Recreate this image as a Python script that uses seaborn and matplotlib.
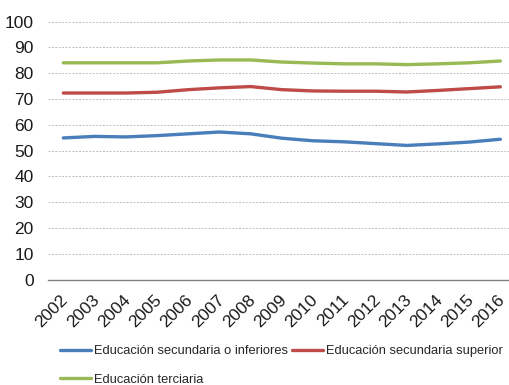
import matplotlib
matplotlib.use("Agg")
import matplotlib.pyplot as plt
import matplotlib.transforms as mtrans
import seaborn as sns
import pandas as pd
import numpy as np

years = [str(y) for y in range(2002, 2017)]
low = [54.9, 55.5, 55.3, 55.8, 56.5, 57.2, 56.5, 54.8, 53.8, 53.4, 52.7, 52.0, 52.6, 53.3, 54.4]
upper = [72.3, 72.3, 72.3, 72.6, 73.6, 74.3, 74.8, 73.6, 73.1, 73.0, 73.0, 72.7, 73.3, 74.0, 74.7]
tert = [84.0, 84.0, 84.0, 84.0, 84.7, 85.1, 85.1, 84.3, 83.9, 83.6, 83.6, 83.3, 83.6, 84.0, 84.7]
series_names = ["Educación secundaria o inferiores", "Educación secundaria superior", "Educación terciaria"]
colors = ["#4A7EBB", "#BE4B48", "#98B954"]
yticks = list(range(0, 101, 10))

sns.set_theme(style="white")
plt.rcParams['font.family'] = ['Liberation Sans', 'DejaVu Sans']

df = pd.DataFrame({
    "idx": list(range(len(years))) * 3,
    "value": low + upper + tert,
    "serie": sum([[n] * len(years) for n in series_names], []),
})

fig = plt.figure(figsize=(5.10, 3.85), dpi=100)
ax = fig.add_axes([47.7 / 510, 105.3 / 385, (516 - 47.7) / 510, (279.7 - 21.5) / 385])
sns.lineplot(data=df, x="idx", y="value", hue="serie", palette=colors, linewidth=2.4,
             ax=ax, legend=False)

ax.set_xlim(-0.5, len(years) - 0.5)
ax.set_ylim(0, 100)
ax.set_yticks(yticks)
ax.set_yticklabels([str(t) for t in yticks], fontsize=12.5, color="#1a1a1a")
ax.set_xticks(range(len(years)))
ax.set_xticklabels(years, rotation=45, ha="right", va="top", rotation_mode="anchor",
                   fontsize=12.5, color="#1a1a1a")
ax.set_xticks(np.arange(-0.5, len(years), 1.0), minor=True)
ax.tick_params(axis="x", which="major", length=0, pad=9)
ax.tick_params(axis="x", which="minor", length=5, width=1, color="#808080", direction="out")
ax.tick_params(axis="y", length=0, pad=10)
offset = mtrans.ScaledTranslation(-3 / 100, 0, fig.dpi_scale_trans)
for lbl in ax.get_xticklabels():
    lbl.set_transform(lbl.get_transform() + offset)
ax.set_xlabel("")
ax.set_ylabel("")
ax.yaxis.grid(True, linestyle=(0, (2, 1.5)), color="#BDBDBD", linewidth=0.7)
ax.xaxis.grid(False)
for s in ["top", "right", "left"]:
    ax.spines[s].set_visible(False)
ax.spines["bottom"].set_color("#808080")
ax.spines["bottom"].set_linewidth(1.0)
ax.set_axisbelow(True)

handles = [plt.Line2D([], [], color=c, linewidth=2.4) for c in colors]
order = [0, 2, 1]
fig.legend([handles[i] for i in order], [series_names[i] for i in order],
           loc="upper left", bbox_to_anchor=(60 / 510, 1 - 345 / 385),
           ncol=2, frameon=False, prop={'size': 9.3},
           handlelength=2.4, handletextpad=0.2, columnspacing=0.35, labelspacing=1.3,
           borderaxespad=0, borderpad=0)

fig.savefig("out.png", dpi=100)
